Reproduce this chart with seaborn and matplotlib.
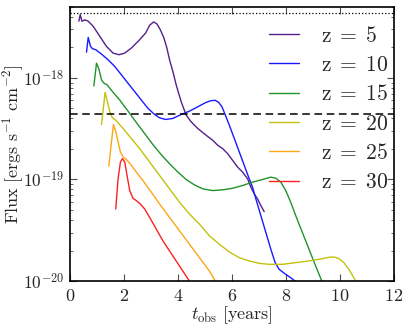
import pandas as pd
import numpy as np
import matplotlib
matplotlib.use("Agg")
import matplotlib.pyplot as plt
import matplotlib.ticker as mticker
import seaborn as sns

# ---- data (t in years, log10 of flux) ----
t_z5 = [0.332, 0.381, 0.443, 0.554, 0.677, 0.861, 1.107, 1.353, 1.599, 1.820, 2.030,
        2.276, 2.583, 2.804, 2.952, 3.100, 3.223, 3.346, 3.481, 3.592, 3.690, 3.813,
        3.936, 4.121, 4.305, 4.490, 4.736, 5.043, 5.289, 5.474, 5.658, 5.843, 6.027,
        6.212, 6.396, 6.581, 6.704, 6.827, 6.950, 7.073, 7.196]
f_z5 = [-17.442, -17.376, -17.442, -17.429, -17.442, -17.492, -17.591, -17.690, -17.756,
        -17.772, -17.756, -17.706, -17.624, -17.558, -17.482, -17.449, -17.469, -17.525,
        -17.607, -17.706, -17.822, -17.937, -18.069, -18.234, -18.366, -18.432, -18.498,
        -18.564, -18.614, -18.663, -18.696, -18.746, -18.812, -18.878, -18.927, -18.993,
        -19.076, -19.142, -19.191, -19.257, -19.317]

t_z10 = [0.615, 0.677, 0.763, 0.836, 0.959, 1.169, 1.415, 1.661, 1.907, 2.153, 2.399,
         2.645, 2.891, 3.137, 3.321, 3.542, 3.813, 4.121, 4.428, 4.736, 5.043, 5.228,
         5.387, 5.510, 5.633, 5.756, 5.904, 6.089, 6.273, 6.458, 6.642, 6.765, 6.888,
         7.073, 7.257, 7.442, 7.601, 7.749, 7.995, 8.180, 8.389]
f_z10 = [-17.746, -17.601, -17.690, -17.713, -17.723, -17.766, -17.822, -17.888, -17.970,
         -18.053, -18.135, -18.218, -18.300, -18.360, -18.393, -18.409, -18.399, -18.360,
         -18.327, -18.284, -18.241, -18.224, -18.221, -18.241, -18.284, -18.366, -18.465,
         -18.597, -18.729, -18.861, -18.993, -19.076, -19.191, -19.356, -19.521, -19.686,
         -19.818, -19.884, -19.934, -19.967, -20.010]

t_z15 = [0.886, 0.984, 1.082, 1.169, 1.267, 1.378, 1.599, 1.845, 2.153, 2.460, 2.768,
         3.075, 3.383, 3.690, 3.998, 4.305, 4.613, 4.920, 5.289, 5.658, 6.027, 6.396,
         6.765, 7.134, 7.442, 7.626, 7.811, 7.995, 8.180, 8.364, 8.610, 8.856, 9.102, 9.348]
f_z15 = [-18.079, -17.855, -17.921, -18.020, -18.053, -18.069, -18.142, -18.218, -18.327,
         -18.439, -18.548, -18.657, -18.756, -18.845, -18.927, -19.000, -19.053, -19.092,
         -19.109, -19.102, -19.086, -19.059, -19.026, -19.000, -18.977, -18.987, -19.026,
         -19.109, -19.224, -19.356, -19.521, -19.686, -19.851, -20.010]

t_z20 = [1.169, 1.304, 1.390, 1.476, 1.574, 1.697, 1.968, 2.276, 2.583, 2.952, 3.321,
         3.690, 4.059, 4.428, 4.797, 5.166, 5.535, 5.904, 6.273, 6.642, 7.011, 7.380,
         7.872, 8.364, 8.856, 9.225, 9.594, 9.779, 9.963, 10.148, 10.332, 10.517, 10.603]
f_z20 = [-18.459, -18.142, -18.234, -18.333, -18.393, -18.416, -18.498, -18.597, -18.696,
         -18.828, -18.960, -19.092, -19.224, -19.340, -19.439, -19.554, -19.637, -19.713,
         -19.769, -19.802, -19.825, -19.835, -19.835, -19.818, -19.802, -19.785, -19.766,
         -19.762, -19.779, -19.818, -19.884, -19.967, -20.010]

t_z25 = [1.439, 1.611, 1.697, 1.784, 1.870, 1.968, 2.091, 2.276, 2.460, 2.706, 3.014,
         3.321, 3.690, 4.059, 4.428, 4.797, 5.166, 5.412]
f_z25 = [-18.868, -18.459, -18.525, -18.630, -18.729, -18.779, -18.802, -18.861, -18.927,
         -19.010, -19.125, -19.241, -19.373, -19.505, -19.637, -19.769, -19.901, -20.010]

t_z30 = [1.697, 1.784, 1.870, 1.943, 2.030, 2.116, 2.214, 2.337, 2.460, 2.608, 2.768,
         2.952, 3.198, 3.444, 3.690, 3.936, 4.182, 4.453]
f_z30 = [-19.290, -18.993, -18.828, -18.795, -18.828, -18.960, -19.109, -19.185, -19.208,
         -19.241, -19.290, -19.373, -19.488, -19.604, -19.703, -19.802, -19.901, -20.010]

labels = ['z = 5', 'z = 10', 'z = 15', 'z = 20', 'z = 25', 'z = 30']
colors = ['#55208a', '#1a1aff', '#22932a', '#c2c20e', '#ffa516', '#ff2020']

dotted_level = 4.4e-18
dashed_level = 4.4e-19

y_ticks = [1e-20, 1e-19, 1e-18]
y_ticklabels = [r'$10^{-20}$', r'$10^{-19}$', r'$10^{-18}$']
x_ticks = [0, 2, 4, 6, 8, 10, 12]

# long-form table for seaborn
series_t = [t_z5, t_z10, t_z15, t_z20, t_z25, t_z30]
series_f = [f_z5, f_z10, f_z15, f_z20, f_z25, f_z30]
frames = []
for lab, t, f in zip(labels, series_t, series_f):
    frames.append(pd.DataFrame({'t': t, 'flux': 10.0 ** np.array(f), 'z': lab}))
df = pd.concat(frames, ignore_index=True)

# ---- style ----
sns.set_style('ticks')
plt.rcParams['mathtext.fontset'] = 'cm'
plt.rcParams['font.family'] = ['DejaVu Serif']
plt.rcParams['xtick.direction'] = 'in'
plt.rcParams['ytick.direction'] = 'in'

fig = plt.figure(figsize=(4.09, 3.28), dpi=100)
ax = fig.add_axes([0.171, 0.143, 0.792, 0.836])

palette = dict(zip(labels, colors))
sns.lineplot(data=df, x='t', y='flux', hue='z', palette=palette, estimator=None,
             sort=False, linewidth=1.0, ax=ax)

ax.axhline(dotted_level, color='k', linestyle=':', linewidth=0.9)
ax.axhline(dashed_level, color='k', linestyle=(0, (5, 3)), linewidth=1.1)

ax.set_yscale('log')
ax.set_xlim(0, 12)
ax.set_ylim(1e-20, 5e-18)

ax.set_xticks(x_ticks, labels=[f'${v}$' for v in x_ticks])
ax.set_yticks(y_ticks, labels=y_ticklabels)
ax.yaxis.set_minor_locator(mticker.LogLocator(base=10, subs=np.arange(2, 10)))
ax.yaxis.set_minor_formatter(mticker.NullFormatter())
ax.tick_params(which='both', top=True, right=True, labelsize=13, color='0.3')
ax.tick_params(axis='y', labelsize=12.5)
ax.tick_params(which='major', length=5, width=0.8, pad=4)
ax.tick_params(which='minor', length=2.5, width=0.6)
for s in ax.spines.values():
    s.set_linewidth(1.2)
    s.set_color('k')

ax.set_xlabel(r'$t_{\mathrm{obs}}\ \mathrm{[years]}$', fontsize=13, labelpad=0)
ax.set_ylabel(r'$\mathrm{Flux\ [ergs\ s^{-1}\ cm^{-2}]}$', fontsize=13)
ax.yaxis.set_label_coords(-0.135, 0.5)

handles, labs = ax.get_legend_handles_labels()
ax.legend(handles, [r'$\mathrm{' + l.replace(' ', r'\;') + '}$' for l in labs],
          loc='upper left', bbox_to_anchor=(0.615, 0.935), frameon=False,
          fontsize=15.5, handlelength=1.4, handletextpad=1.0,
          labelspacing=0.34, borderpad=0, borderaxespad=0)

fig.savefig('out.png', dpi=100)
